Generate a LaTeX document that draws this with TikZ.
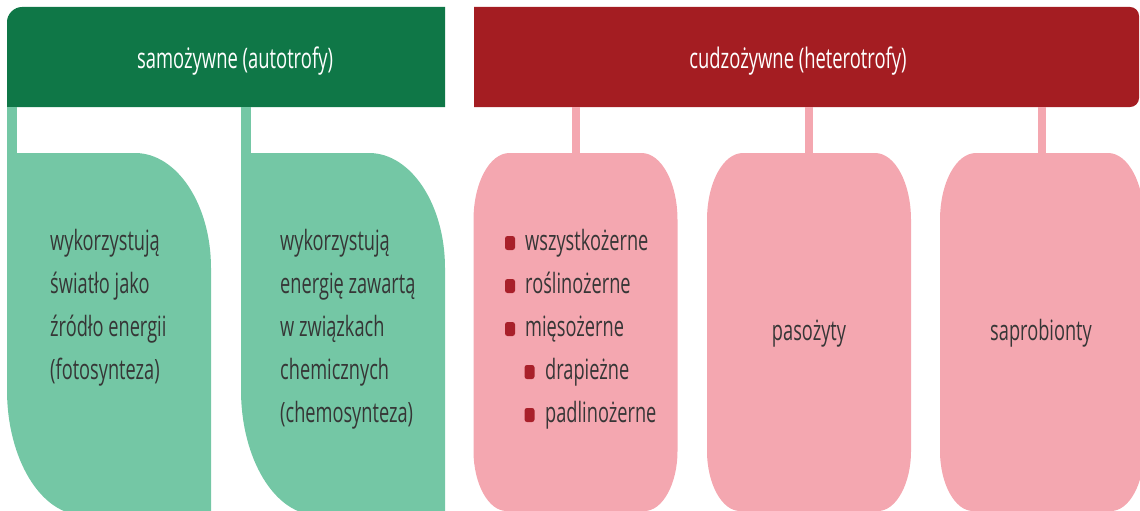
\documentclass[tikz,border=0pt]{standalone}
\usepackage{fontspec}
\setmainfont[FakeStretch=0.65]{Open Sans}
\definecolor{hdgreen}{HTML}{0F7747}
\definecolor{ltgreen}{HTML}{74C7A5}
\definecolor{hdred}{HTML}{A41D22}
\definecolor{ltpink}{HTML}{F4A7B0}
\definecolor{bulred}{HTML}{A8202A}
\definecolor{txtgray}{HTML}{363636}
\newcommand\mylines[1]{\begin{tabular}[t]{@{}l@{}}#1\end{tabular}}
\newcommand\greenbox[1]{\fill[ltgreen, shift={(#1,0)}] (0,153) -- (128,153) .. controls (170,153) and (204,204.5) .. (204,268) -- (204,515) -- (76,515) .. controls (34,515) and (0,459) .. (0,390) -- cycle;}
\newcommand\pinkbox[1]{\fill[ltpink, shift={(#1,0)}] (-102,220) .. controls (-102,183) and (-86,153) .. (-66,153) -- (66,153) .. controls (86,153) and (102,183) .. (102,220) -- (102,451) .. controls (102,484) and (87,511) .. (69,511) -- (-69,511) .. controls (-87,511) and (-102,484) .. (-102,451) -- cycle;}
\begin{document}
\begin{tikzpicture}[x=1pt, y=-1pt,
  hdtext/.style={text=white, font=\fontsize{28.3}{32}\selectfont, inner sep=0},
  body/.style={text=txtgray, font=\fontsize{28}{43}\selectfont, inner sep=0},
  bul/.style={fill=bulred, rounded corners=2.5pt, minimum width=10pt, minimum height=14pt, inner sep=0},
  gbar/.style={draw=ltgreen, line width=10pt},
  pbar/.style={draw=ltpink, line width=8pt}]
\clip (0,0) rectangle (1140,511);
% headers
\fill[hdgreen] (7,107) -- (7,22) .. controls (7,14) and (14,7) .. (22,7) -- (445,7) -- (445,107) -- cycle;
\fill[hdred] (474,107) -- (474,7) -- (1130,7) .. controls (1135,7) and (1139,11) .. (1139,16) -- (1139,98) .. controls (1139,103) and (1135,107) .. (1130,107) -- cycle;
\node[hdtext, anchor=base] (auto) at (235,69) {samożywne (autotrofy)};
\node[hdtext, anchor=base] (hetero) at (798,69) {cudzożywne (heterotrofy)};
% connectors
\coordinate (g1t) at (12,107); \coordinate (g1b) at (12,153);
\coordinate (g2t) at (246,107); \coordinate (g2b) at (246,153);
\coordinate (p1t) at (575.5,107); \coordinate (p1b) at (575.5,153);
\coordinate (p2t) at (809,107); \coordinate (p2b) at (809,153);
\coordinate (p3t) at (1042,107); \coordinate (p3b) at (1042,153);
\draw[gbar] (g1t) -- (g1b);
\draw[gbar] (g2t) -- (g2b);
\draw[pbar] (p1t) -- (p1b);
\draw[pbar] (p2t) -- (p2b);
\draw[pbar] (p3t) -- (p3b);
% boxes
\greenbox{7}
\greenbox{241}
\pinkbox{575.5}
\pinkbox{809}
\pinkbox{1042}
% texts
\node[body, anchor=base west] (t1) at (50,250.5) {\mylines{wykorzystują\\światło jako\\źródło energii\\(fotosynteza)}};
\node[body, anchor=base west] (t2) at (280,250.5) {\mylines{wykorzystują\\energię zawartą\\w związkach\\chemicznych\\(chemosynteza)}};
\foreach \y/\t [count=\i] in {243/wszystkożerne, 286/roślinożerne, 329/mięsożerne} {
  \node[bul] (b\i) at (510,\y) {};
  \node[body, anchor=base west] (l\i) at (525,{\y+7.5}) {\t};
}
\foreach \y/\t [count=\i from 4] in {372/drapieżne, 415/padlinożerne} {
  \node[bul] (b\i) at (529.5,\y) {};
  \node[body, anchor=base west] (l\i) at (545,{\y+7.5}) {\t};
}
\node[body, anchor=base] (paso) at (809,340.5) {pasożyty};
\node[body, anchor=base] (sapro) at (1041,340.5) {saprobionty};
\end{tikzpicture}
\end{document}
